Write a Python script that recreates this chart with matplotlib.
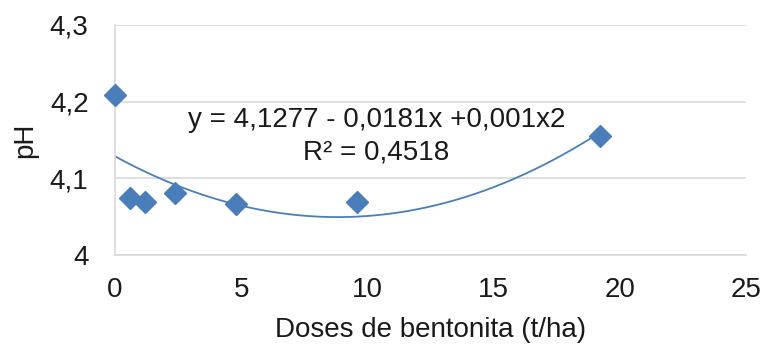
import numpy as np
import matplotlib
matplotlib.use("Agg")
import matplotlib.pyplot as plt

plt.rcParams.update({"font.family": ["Liberation Sans", "DejaVu Sans"], "figure.dpi": 100})

# doses (t/ha) and pH
doses = [0, 0.6, 1.2, 2.4, 4.8, 9.6, 19.2]
ph = [4.208, 4.074, 4.069, 4.081, 4.066, 4.069, 4.155]
xticks = [0, 5, 10, 15, 20, 25]
yticks = [4.0, 4.1, 4.2, 4.3]
ytick_labels = ["4", "4,1", "4,2", "4,3"]

blue = "#4a7ebb"
grid = "#d9d9d9"
ink = "#1a1a1a"
fs = 20

fig = plt.figure(figsize=(7.66, 3.45))
ax = fig.add_axes([0.150, 0.261, 0.824, 0.667])

# quadratic trendline fitted to the points
coef = np.polyfit(doses, ph, 2)
xs = np.linspace(0, max(doses), 200)
ax.plot(xs, np.polyval(coef, xs), color=blue, lw=1.3, zorder=2)
ax.plot(doses, ph, "D", color=blue, markersize=11, zorder=3, clip_on=False)

ax.set_xlim(0, 25)
ax.set_ylim(4.0, 4.3)
ax.set_xticks(xticks)
ax.set_yticks(yticks)
ax.set_yticklabels(ytick_labels)
ax.tick_params(length=0, labelsize=fs, colors=ink)
ax.tick_params(axis="x", pad=16)
ax.tick_params(axis="y", pad=19)
ax.grid(axis="y", color=grid, lw=1.2)
ax.set_axisbelow(True)
for s in ["top", "right"]:
    ax.spines[s].set_visible(False)
for s in ["left", "bottom"]:
    ax.spines[s].set_color(grid)
    ax.spines[s].set_linewidth(1.2)

ax.set_xlabel("Doses de bentonita (t/ha)", fontsize=fs, labelpad=10, color=ink)
ax.set_ylabel("pH", fontsize=fs, labelpad=8, color=ink)

ax.text(10.36, 4.167, "y = 4,1277 - 0,0181x +0,001x2", ha="center", va="baseline",
        fontsize=fs, color=ink)
ax.text(10.36, 4.124, "R² = 0,4518", ha="center", va="baseline",
        fontsize=fs, color=ink)

fig.savefig("out.png", dpi=100)
